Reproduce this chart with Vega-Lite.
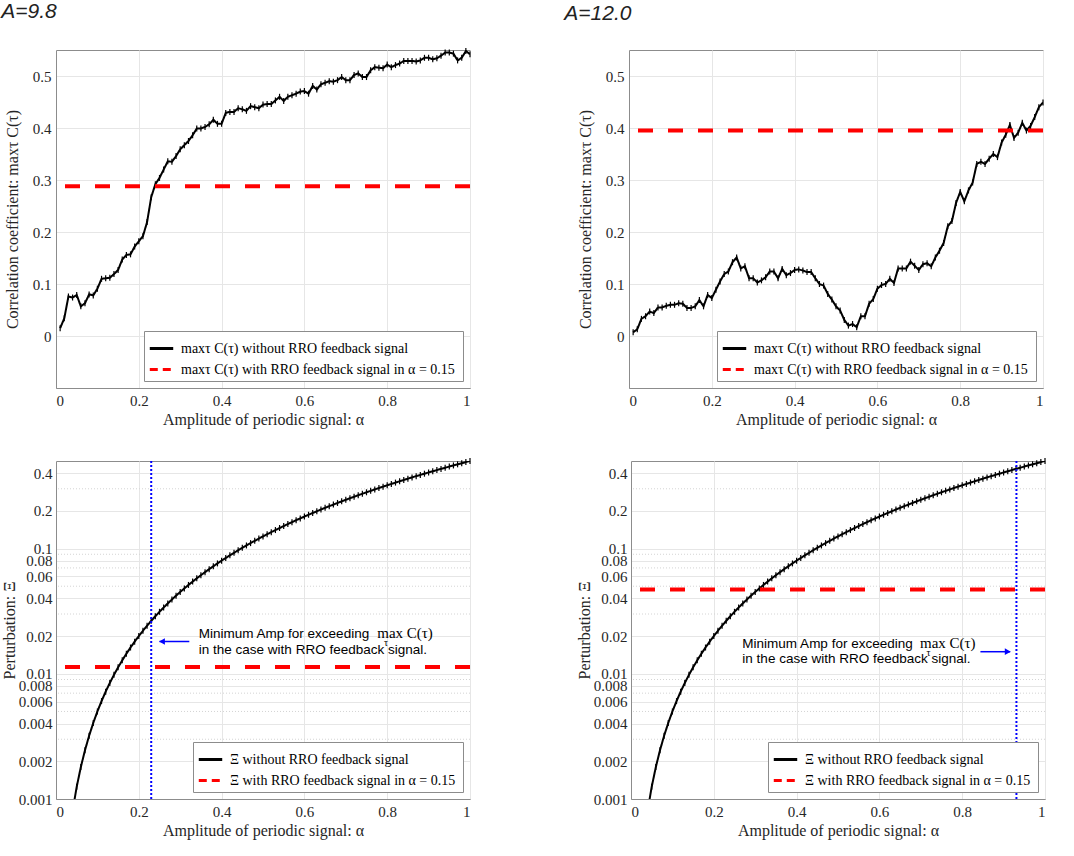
{
  "$schema": "https://vega.github.io/schema/vega-lite/v6.json",
  "padding": {"left": 0, "top": 0, "right": 4, "bottom": 4},
  "datasets": {
    "tl": [
      {"a":0.01,"v":0.015},{"a":0.02,"v":0.034},{"a":0.03,"v":0.076},{"a":0.04,"v":0.074},{"a":0.05,"v":0.079},
      {"a":0.06,"v":0.057},{"a":0.07,"v":0.063},{"a":0.08,"v":0.080},{"a":0.09,"v":0.078},{"a":0.10,"v":0.091},
      {"a":0.11,"v":0.110},{"a":0.12,"v":0.111},{"a":0.13,"v":0.112},{"a":0.14,"v":0.119},{"a":0.15,"v":0.127},
      {"a":0.16,"v":0.147},{"a":0.17,"v":0.156},{"a":0.18,"v":0.157},{"a":0.19,"v":0.172},{"a":0.20,"v":0.182},
      {"a":0.21,"v":0.192},{"a":0.22,"v":0.219},{"a":0.23,"v":0.267},{"a":0.24,"v":0.292},{"a":0.25,"v":0.304},
      {"a":0.26,"v":0.320},{"a":0.27,"v":0.336},{"a":0.28,"v":0.335},{"a":0.29,"v":0.346},{"a":0.30,"v":0.359},
      {"a":0.31,"v":0.367},{"a":0.32,"v":0.375},{"a":0.33,"v":0.386},{"a":0.34,"v":0.399},{"a":0.35,"v":0.399},
      {"a":0.36,"v":0.402},{"a":0.37,"v":0.407},{"a":0.38,"v":0.416},{"a":0.39,"v":0.408},{"a":0.40,"v":0.408},
      {"a":0.41,"v":0.429},{"a":0.42,"v":0.431},{"a":0.43,"v":0.431},{"a":0.44,"v":0.438},{"a":0.45,"v":0.436},
      {"a":0.46,"v":0.433},{"a":0.47,"v":0.442},{"a":0.48,"v":0.440},{"a":0.49,"v":0.438},{"a":0.50,"v":0.445},
      {"a":0.51,"v":0.446},{"a":0.52,"v":0.446},{"a":0.53,"v":0.453},{"a":0.54,"v":0.460},{"a":0.55,"v":0.452},
      {"a":0.56,"v":0.460},{"a":0.57,"v":0.463},{"a":0.58,"v":0.466},{"a":0.59,"v":0.470},{"a":0.60,"v":0.471},
      {"a":0.61,"v":0.466},{"a":0.62,"v":0.481},{"a":0.63,"v":0.474},{"a":0.64,"v":0.484},{"a":0.65,"v":0.487},
      {"a":0.66,"v":0.490},{"a":0.67,"v":0.489},{"a":0.68,"v":0.492},{"a":0.69,"v":0.498},{"a":0.70,"v":0.492},
      {"a":0.71,"v":0.492},{"a":0.72,"v":0.502},{"a":0.73,"v":0.505},{"a":0.74,"v":0.498},{"a":0.75,"v":0.498},
      {"a":0.76,"v":0.511},{"a":0.77,"v":0.517},{"a":0.78,"v":0.516},{"a":0.79,"v":0.515},{"a":0.80,"v":0.522},
      {"a":0.81,"v":0.517},{"a":0.82,"v":0.521},{"a":0.83,"v":0.524},{"a":0.84,"v":0.529},{"a":0.85,"v":0.529},
      {"a":0.86,"v":0.529},{"a":0.87,"v":0.528},{"a":0.88,"v":0.530},{"a":0.89,"v":0.535},{"a":0.90,"v":0.535},
      {"a":0.91,"v":0.532},{"a":0.92,"v":0.534},{"a":0.93,"v":0.539},{"a":0.94,"v":0.545},{"a":0.95,"v":0.545},
      {"a":0.96,"v":0.543},{"a":0.97,"v":0.530},{"a":0.98,"v":0.535},{"a":0.99,"v":0.548},{"a":1.00,"v":0.542}
    ],
    "tr": [
      {"a":0.01,"v":0.007},{"a":0.02,"v":0.013},{"a":0.03,"v":0.033},{"a":0.04,"v":0.038},{"a":0.05,"v":0.047},
      {"a":0.06,"v":0.044},{"a":0.07,"v":0.055},{"a":0.08,"v":0.055},{"a":0.09,"v":0.058},{"a":0.10,"v":0.060},
      {"a":0.11,"v":0.060},{"a":0.12,"v":0.063},{"a":0.13,"v":0.062},{"a":0.14,"v":0.054},{"a":0.15,"v":0.054},
      {"a":0.16,"v":0.057},{"a":0.17,"v":0.069},{"a":0.18,"v":0.057},{"a":0.19,"v":0.079},{"a":0.20,"v":0.073},
      {"a":0.21,"v":0.089},{"a":0.22,"v":0.105},{"a":0.23,"v":0.119},{"a":0.24,"v":0.124},{"a":0.25,"v":0.142},
      {"a":0.26,"v":0.151},{"a":0.27,"v":0.130},{"a":0.28,"v":0.134},{"a":0.29,"v":0.111},{"a":0.30,"v":0.111},
      {"a":0.31,"v":0.103},{"a":0.32,"v":0.107},{"a":0.33,"v":0.113},{"a":0.34,"v":0.124},{"a":0.35,"v":0.124},
      {"a":0.36,"v":0.111},{"a":0.37,"v":0.129},{"a":0.38,"v":0.117},{"a":0.39,"v":0.121},{"a":0.40,"v":0.127},
      {"a":0.41,"v":0.128},{"a":0.42,"v":0.126},{"a":0.43,"v":0.123},{"a":0.44,"v":0.123},{"a":0.45,"v":0.111},
      {"a":0.46,"v":0.100},{"a":0.47,"v":0.097},{"a":0.48,"v":0.081},{"a":0.49,"v":0.070},{"a":0.50,"v":0.057},
      {"a":0.51,"v":0.049},{"a":0.52,"v":0.031},{"a":0.53,"v":0.020},{"a":0.54,"v":0.023},{"a":0.55,"v":0.017},
      {"a":0.56,"v":0.038},{"a":0.57,"v":0.038},{"a":0.58,"v":0.062},{"a":0.59,"v":0.071},{"a":0.60,"v":0.091},
      {"a":0.61,"v":0.098},{"a":0.62,"v":0.100},{"a":0.63,"v":0.110},{"a":0.64,"v":0.102},{"a":0.65,"v":0.130},
      {"a":0.66,"v":0.130},{"a":0.67,"v":0.130},{"a":0.68,"v":0.143},{"a":0.69,"v":0.135},{"a":0.70,"v":0.127},
      {"a":0.71,"v":0.138},{"a":0.72,"v":0.140},{"a":0.73,"v":0.134},{"a":0.74,"v":0.151},{"a":0.75,"v":0.164},
      {"a":0.76,"v":0.179},{"a":0.77,"v":0.211},{"a":0.78,"v":0.221},{"a":0.79,"v":0.256},{"a":0.80,"v":0.277},
      {"a":0.81,"v":0.259},{"a":0.82,"v":0.280},{"a":0.83,"v":0.295},{"a":0.84,"v":0.331},{"a":0.85,"v":0.335},
      {"a":0.86,"v":0.331},{"a":0.87,"v":0.341},{"a":0.88,"v":0.350},{"a":0.89,"v":0.344},{"a":0.90,"v":0.372},
      {"a":0.91,"v":0.387},{"a":0.92,"v":0.406},{"a":0.93,"v":0.381},{"a":0.94,"v":0.391},{"a":0.95,"v":0.410},
      {"a":0.96,"v":0.395},{"a":0.97,"v":0.404},{"a":0.98,"v":0.421},{"a":0.99,"v":0.440},{"a":1.00,"v":0.449}
    ],
    "xi": [
      {"a":0.04,"v":0.0008},{"a":0.05,"v":0.00125},{"a":0.06,"v":0.0018},{"a":0.07,"v":0.00245},{"a":0.08,"v":0.0032},
      {"a":0.09,"v":0.00405},{"a":0.10,"v":0.005},{"a":0.11,"v":0.00605},{"a":0.12,"v":0.0072},{"a":0.13,"v":0.00845},
      {"a":0.14,"v":0.0098},{"a":0.15,"v":0.01125},{"a":0.16,"v":0.0128},{"a":0.17,"v":0.01445},{"a":0.18,"v":0.0162},
      {"a":0.19,"v":0.01805},{"a":0.20,"v":0.02},{"a":0.21,"v":0.02205},{"a":0.22,"v":0.0242},{"a":0.23,"v":0.02645},
      {"a":0.24,"v":0.0288},{"a":0.25,"v":0.03125},{"a":0.26,"v":0.0338},{"a":0.27,"v":0.03645},{"a":0.28,"v":0.0392},
      {"a":0.29,"v":0.04205},{"a":0.30,"v":0.045},{"a":0.31,"v":0.04805},{"a":0.32,"v":0.0512},{"a":0.33,"v":0.05445},
      {"a":0.34,"v":0.0578},{"a":0.35,"v":0.06125},{"a":0.36,"v":0.0648},{"a":0.37,"v":0.06845},{"a":0.38,"v":0.0722},
      {"a":0.39,"v":0.07605},{"a":0.40,"v":0.08},{"a":0.41,"v":0.08405},{"a":0.42,"v":0.0882},{"a":0.43,"v":0.09245},
      {"a":0.44,"v":0.0968},{"a":0.45,"v":0.10125},{"a":0.46,"v":0.1058},{"a":0.47,"v":0.11045},{"a":0.48,"v":0.1152},
      {"a":0.49,"v":0.12005},{"a":0.50,"v":0.125},{"a":0.51,"v":0.13005},{"a":0.52,"v":0.1352},{"a":0.53,"v":0.14045},
      {"a":0.54,"v":0.1458},{"a":0.55,"v":0.15125},{"a":0.56,"v":0.1568},{"a":0.57,"v":0.16245},{"a":0.58,"v":0.1682},
      {"a":0.59,"v":0.17405},{"a":0.60,"v":0.18},{"a":0.61,"v":0.18605},{"a":0.62,"v":0.1922},{"a":0.63,"v":0.19845},
      {"a":0.64,"v":0.2048},{"a":0.65,"v":0.21125},{"a":0.66,"v":0.2178},{"a":0.67,"v":0.22445},{"a":0.68,"v":0.2312},
      {"a":0.69,"v":0.23805},{"a":0.70,"v":0.245},{"a":0.71,"v":0.25205},{"a":0.72,"v":0.2592},{"a":0.73,"v":0.26645},
      {"a":0.74,"v":0.2738},{"a":0.75,"v":0.28125},{"a":0.76,"v":0.2888},{"a":0.77,"v":0.29645},{"a":0.78,"v":0.3042},
      {"a":0.79,"v":0.31205},{"a":0.80,"v":0.32},{"a":0.81,"v":0.32805},{"a":0.82,"v":0.3362},{"a":0.83,"v":0.34445},
      {"a":0.84,"v":0.3528},{"a":0.85,"v":0.36125},{"a":0.86,"v":0.3698},{"a":0.87,"v":0.37845},{"a":0.88,"v":0.3872},
      {"a":0.89,"v":0.39605},{"a":0.90,"v":0.405},{"a":0.91,"v":0.41405},{"a":0.92,"v":0.4232},{"a":0.93,"v":0.43245},
      {"a":0.94,"v":0.4418},{"a":0.95,"v":0.45125},{"a":0.96,"v":0.4608},{"a":0.97,"v":0.47045},{"a":0.98,"v":0.4802},
      {"a":0.99,"v":0.49005},{"a":1.00,"v":0.5}
    ],
    "minor": [
      {"v":0.003},{"v":0.005},{"v":0.007},{"v":0.009},{"v":0.03},{"v":0.05},{"v":0.07},{"v":0.09},{"v":0.3}
    ]
  },
  "spacing": 29,
  "resolve": {
    "scale": {"color": "independent", "strokeDash": "independent"},
    "legend": {"color": "independent", "strokeDash": "independent"}
  },
  "vconcat": [
    {
      "spacing": 90,
      "resolve": {
        "scale": {"color": "independent", "strokeDash": "independent"},
        "legend": {"color": "independent", "strokeDash": "independent"}
      },
      "hconcat": [
        {
          "title": {"text": "A=9.8", "dx": -3},
          "width": 414,
          "height": 338,
          "layer": [
            {
              "data": {"name": "tl"},
              "mark": {"type": "line", "strokeWidth": 2, "clip": true},
              "encoding": {
                "x": {"field": "a", "type": "quantitative", "scale": {"domain": [0, 1], "nice": false},
                      "axis": {"values": [0, 0.2, 0.4, 0.6, 0.8, 1], "format": "~g", "title": "Amplitude of periodic signal: α"}},
                "y": {"field": "v", "type": "quantitative", "scale": {"domain": [-0.1, 0.55], "nice": false, "zero": false},
                      "axis": {"values": [0, 0.1, 0.2, 0.3, 0.4, 0.5], "format": "~g", "title": "Correlation coefficient: maxτ C(τ)"}},
                "color": {"datum": "maxτ C(τ) without RRO feedback signal", "type": "nominal",
                          "scale": {"domain": ["maxτ C(τ) without RRO feedback signal", "maxτ C(τ) with RRO feedback signal in  α = 0.15"], "range": ["#000000", "#ff0000"]},
                          "legend": {"title": null}},
                "strokeDash": {"datum": "maxτ C(τ) without RRO feedback signal", "type": "nominal",
                          "scale": {"domain": ["maxτ C(τ) without RRO feedback signal", "maxτ C(τ) with RRO feedback signal in  α = 0.15"], "range": [[1, 0], [8, 5]]},
                          "legend": {"title": null}}
              }
            },
            {
              "data": {"name": "tl"},
              "mark": {"type": "tick", "orient": "vertical", "size": 6, "thickness": 1.2, "color": "#000000", "opacity": 1},
              "encoding": {
                "x": {"field": "a", "type": "quantitative"},
                "y": {"field": "v", "type": "quantitative"}
              }
            },
            {
              "data": {"values": [{"v": 0.288}]},
              "mark": {"type": "rule", "strokeWidth": 4},
              "encoding": {
                "y": {"field": "v", "type": "quantitative"},
                "color": {"datum": "maxτ C(τ) with RRO feedback signal in  α = 0.15", "type": "nominal"},
                "strokeDash": {"value": [15, 15]}
              }
            }
          ]
        },
        {
          "title": {"text": "A=12.0", "dx": -13},
          "width": 414,
          "height": 338,
          "layer": [
            {
              "data": {"name": "tr"},
              "mark": {"type": "line", "strokeWidth": 2, "clip": true},
              "encoding": {
                "x": {"field": "a", "type": "quantitative", "scale": {"domain": [0, 1], "nice": false},
                      "axis": {"values": [0, 0.2, 0.4, 0.6, 0.8, 1], "format": "~g", "title": "Amplitude of periodic signal: α"}},
                "y": {"field": "v", "type": "quantitative", "scale": {"domain": [-0.1, 0.55], "nice": false, "zero": false},
                      "axis": {"values": [0, 0.1, 0.2, 0.3, 0.4, 0.5], "format": "~g", "title": "Correlation coefficient: maxτ C(τ)"}},
                "color": {"datum": "maxτ C(τ) without RRO feedback signal", "type": "nominal",
                          "scale": {"domain": ["maxτ C(τ) without RRO feedback signal", "maxτ C(τ) with RRO feedback signal in  α = 0.15"], "range": ["#000000", "#ff0000"]},
                          "legend": {"title": null}},
                "strokeDash": {"datum": "maxτ C(τ) without RRO feedback signal", "type": "nominal",
                          "scale": {"domain": ["maxτ C(τ) without RRO feedback signal", "maxτ C(τ) with RRO feedback signal in  α = 0.15"], "range": [[1, 0], [8, 5]]},
                          "legend": {"title": null}}
              }
            },
            {
              "data": {"name": "tr"},
              "mark": {"type": "tick", "orient": "vertical", "size": 6, "thickness": 1.2, "color": "#000000", "opacity": 1},
              "encoding": {
                "x": {"field": "a", "type": "quantitative"},
                "y": {"field": "v", "type": "quantitative"}
              }
            },
            {
              "data": {"values": [{"v": 0.395}]},
              "mark": {"type": "rule", "strokeWidth": 4},
              "encoding": {
                "y": {"field": "v", "type": "quantitative"},
                "color": {"datum": "maxτ C(τ) with RRO feedback signal in  α = 0.15", "type": "nominal"},
                "strokeDash": {"value": [15, 15]}
              }
            }
          ]
        }
      ]
    },
    {
      "spacing": 102,
      "resolve": {
        "scale": {"color": "independent", "strokeDash": "independent"},
        "legend": {"color": "independent", "strokeDash": "independent"}
      },
      "hconcat": [
        {
          "width": 414,
          "height": 338,
          "layer": [
            {
              "data": {"name": "minor"},
              "mark": {"type": "rule", "color": "#d4d4d4", "strokeWidth": 1, "strokeDash": [1, 2]},
              "encoding": {
                "y": {"field": "v", "type": "quantitative", "scale": {"type": "log", "domain": [0.001, 0.5], "nice": false},
                      "axis": {"values": [0.001, 0.002, 0.004, 0.006, 0.008, 0.01, 0.02, 0.04, 0.06, 0.08, 0.1, 0.2, 0.4], "format": "~g", "labelOverlap": false, "labelBound": false, "labelPadding": 4, "title": "Perturbation: Ξ", "titlePadding": 1}}
              }
            },
            {
              "data": {"name": "xi"},
              "mark": {"type": "line", "strokeWidth": 2, "clip": true},
              "encoding": {
                "x": {"field": "a", "type": "quantitative", "scale": {"domain": [0, 1], "nice": false},
                      "axis": {"values": [0, 0.2, 0.4, 0.6, 0.8, 1], "format": "~g", "title": "Amplitude of periodic signal: α"}},
                "y": {"field": "v", "type": "quantitative"},
                "color": {"datum": "Ξ without RRO feedback signal", "type": "nominal",
                          "scale": {"domain": ["Ξ without RRO feedback signal", "Ξ with RRO feedback signal in  α = 0.15"], "range": ["#000000", "#ff0000"]},
                          "legend": {"title": null}},
                "strokeDash": {"datum": "Ξ without RRO feedback signal", "type": "nominal",
                          "scale": {"domain": ["Ξ without RRO feedback signal", "Ξ with RRO feedback signal in  α = 0.15"], "range": [[1, 0], [8, 5]]},
                          "legend": {"title": null}}
              }
            },
            {
              "data": {"name": "xi"},
              "transform": [{"filter": "datum.v >= 0.001"}],
              "mark": {"type": "tick", "orient": "vertical", "size": 6, "thickness": 1.2, "color": "#000000", "opacity": 1},
              "encoding": {
                "x": {"field": "a", "type": "quantitative"},
                "y": {"field": "v", "type": "quantitative"}
              }
            },
            {
              "data": {"values": [{"v": 0.0113}]},
              "mark": {"type": "rule", "strokeWidth": 4},
              "encoding": {
                "y": {"field": "v", "type": "quantitative"},
                "color": {"datum": "Ξ with RRO feedback signal in  α = 0.15", "type": "nominal"},
                "strokeDash": {"value": [15, 15]}
              }
            },
            {
              "data": {"values": [{"a": 0.23}]},
              "mark": {"type": "rule", "color": "#0000ff", "strokeWidth": 2, "strokeDash": [2, 2]},
              "encoding": {"x": {"field": "a", "type": "quantitative"}}
            },
            {
              "data": {"values": [{"a": 0.25, "a2": 0.322, "v": 0.0181}]},
              "mark": {"type": "rule", "color": "#0000ff", "strokeWidth": 1.5},
              "encoding": {
                "x": {"field": "a", "type": "quantitative"},
                "x2": {"field": "a2"},
                "y": {"field": "v", "type": "quantitative"}
              }
            },
            {
              "data": {"values": [{"a": 0.256, "v": 0.0181}]},
              "mark": {"type": "point", "shape": "triangle-left", "filled": true, "color": "#0000ff", "size": 45, "opacity": 1},
              "encoding": {
                "x": {"field": "a", "type": "quantitative"},
                "y": {"field": "v", "type": "quantitative"}
              }
            },
            {
              "data": {"values": [
                {"a": 0.345, "v": 0.0206, "t": "Minimum Amp for exceeding"},
                {"a": 0.345, "v": 0.0155, "t": "in the case with RRO feedback signal."}
              ]},
              "mark": {"type": "text", "align": "left", "baseline": "middle", "font": "Liberation Sans", "fontSize": 13.5, "color": "#000000"},
              "encoding": {
                "x": {"field": "a", "type": "quantitative"},
                "y": {"field": "v", "type": "quantitative"},
                "text": {"field": "t"}
              }
            },
            {
              "data": {"values": [{"a": 0.776, "v": 0.0212, "t": "max C(τ)"}]},
              "mark": {"type": "text", "align": "left", "baseline": "middle", "font": "Liberation Serif", "fontSize": 15, "color": "#000000"},
              "encoding": {
                "x": {"field": "a", "type": "quantitative"},
                "y": {"field": "v", "type": "quantitative"},
                "text": {"field": "t"}
              }
            },
            {
              "data": {"values": [{"a": 0.792, "v": 0.0176, "t": "τ"}]},
              "mark": {"type": "text", "align": "left", "baseline": "middle", "font": "Liberation Serif", "fontSize": 10, "color": "#000000"},
              "encoding": {
                "x": {"field": "a", "type": "quantitative"},
                "y": {"field": "v", "type": "quantitative"},
                "text": {"field": "t"}
              }
            }
          ]
        },
        {
          "width": 414,
          "height": 338,
          "layer": [
            {
              "data": {"name": "minor"},
              "mark": {"type": "rule", "color": "#d4d4d4", "strokeWidth": 1, "strokeDash": [1, 2]},
              "encoding": {
                "y": {"field": "v", "type": "quantitative", "scale": {"type": "log", "domain": [0.001, 0.5], "nice": false},
                      "axis": {"values": [0.001, 0.002, 0.004, 0.006, 0.008, 0.01, 0.02, 0.04, 0.06, 0.08, 0.1, 0.2, 0.4], "format": "~g", "labelOverlap": false, "labelBound": false, "labelPadding": 4, "title": "Perturbation: Ξ", "titlePadding": 1}}
              }
            },
            {
              "data": {"name": "xi"},
              "mark": {"type": "line", "strokeWidth": 2, "clip": true},
              "encoding": {
                "x": {"field": "a", "type": "quantitative", "scale": {"domain": [0, 1], "nice": false},
                      "axis": {"values": [0, 0.2, 0.4, 0.6, 0.8, 1], "format": "~g", "title": "Amplitude of periodic signal: α"}},
                "y": {"field": "v", "type": "quantitative"},
                "color": {"datum": "Ξ without RRO feedback signal", "type": "nominal",
                          "scale": {"domain": ["Ξ without RRO feedback signal", "Ξ with RRO feedback signal in  α = 0.15"], "range": ["#000000", "#ff0000"]},
                          "legend": {"title": null}},
                "strokeDash": {"datum": "Ξ without RRO feedback signal", "type": "nominal",
                          "scale": {"domain": ["Ξ without RRO feedback signal", "Ξ with RRO feedback signal in  α = 0.15"], "range": [[1, 0], [8, 5]]},
                          "legend": {"title": null}}
              }
            },
            {
              "data": {"name": "xi"},
              "transform": [{"filter": "datum.v >= 0.001"}],
              "mark": {"type": "tick", "orient": "vertical", "size": 6, "thickness": 1.2, "color": "#000000", "opacity": 1},
              "encoding": {
                "x": {"field": "a", "type": "quantitative"},
                "y": {"field": "v", "type": "quantitative"}
              }
            },
            {
              "data": {"values": [{"v": 0.047}]},
              "mark": {"type": "rule", "strokeWidth": 4},
              "encoding": {
                "y": {"field": "v", "type": "quantitative"},
                "color": {"datum": "Ξ with RRO feedback signal in  α = 0.15", "type": "nominal"},
                "strokeDash": {"value": [15, 15]}
              }
            },
            {
              "data": {"values": [{"a": 0.931}]},
              "mark": {"type": "rule", "color": "#0000ff", "strokeWidth": 2, "strokeDash": [2, 2]},
              "encoding": {"x": {"field": "a", "type": "quantitative"}}
            },
            {
              "data": {"values": [{"a": 0.844, "a2": 0.916, "v": 0.015}]},
              "mark": {"type": "rule", "color": "#0000ff", "strokeWidth": 1.5},
              "encoding": {
                "x": {"field": "a", "type": "quantitative"},
                "x2": {"field": "a2"},
                "y": {"field": "v", "type": "quantitative"}
              }
            },
            {
              "data": {"values": [{"a": 0.91, "v": 0.015}]},
              "mark": {"type": "point", "shape": "triangle-right", "filled": true, "color": "#0000ff", "size": 45, "opacity": 1},
              "encoding": {
                "x": {"field": "a", "type": "quantitative"},
                "y": {"field": "v", "type": "quantitative"}
              }
            },
            {
              "data": {"values": [
                {"a": 0.269, "v": 0.0172, "t": "Minimum Amp for exceeding"},
                {"a": 0.269, "v": 0.0131, "t": "in the case with RRO feedback signal."}
              ]},
              "mark": {"type": "text", "align": "left", "baseline": "middle", "font": "Liberation Sans", "fontSize": 13.5, "color": "#000000"},
              "encoding": {
                "x": {"field": "a", "type": "quantitative"},
                "y": {"field": "v", "type": "quantitative"},
                "text": {"field": "t"}
              }
            },
            {
              "data": {"values": [{"a": 0.698, "v": 0.0177, "t": "max C(τ)"}]},
              "mark": {"type": "text", "align": "left", "baseline": "middle", "font": "Liberation Serif", "fontSize": 15, "color": "#000000"},
              "encoding": {
                "x": {"field": "a", "type": "quantitative"},
                "y": {"field": "v", "type": "quantitative"},
                "text": {"field": "t"}
              }
            },
            {
              "data": {"values": [{"a": 0.714, "v": 0.0147, "t": "τ"}]},
              "mark": {"type": "text", "align": "left", "baseline": "middle", "font": "Liberation Serif", "fontSize": 10, "color": "#000000"},
              "encoding": {
                "x": {"field": "a", "type": "quantitative"},
                "y": {"field": "v", "type": "quantitative"},
                "text": {"field": "t"}
              }
            }
          ]
        }
      ]
    }
  ],
  "config": {
    "font": "Liberation Serif",
    "view": {"stroke": "#8c8c8c", "strokeWidth": 1},
    "axis": {
      "labelFont": "Liberation Serif", "labelFontSize": 15, "labelColor": "#262626",
      "titleFont": "Liberation Serif", "titleFontSize": 16, "titleFontWeight": "normal", "titleColor": "#262626",
      "gridColor": "#e6e6e6", "domainColor": "#8c8c8c", "ticks": false, "labelPadding": 5
    },
    "axisX": {"titlePadding": 3},
    "axisY": {"titlePadding": 12},
    "title": {"font": "Liberation Sans", "fontStyle": "italic", "fontSize": 21, "fontWeight": "normal", "anchor": "start", "frame": "bounds", "offset": 26, "color": "#222222"},
    "legend": {
      "orient": "bottom-right", "offset": 7, "fillColor": "#ffffff", "strokeColor": "#8c8c8c", "padding": 4,
      "labelFont": "Liberation Serif", "labelFontSize": 14, "labelColor": "#000000", "labelLimit": 500,
      "symbolType": "stroke", "symbolSize": 550, "symbolStrokeWidth": 3, "rowPadding": 0, "labelOffset": 6
    }
  }
}
